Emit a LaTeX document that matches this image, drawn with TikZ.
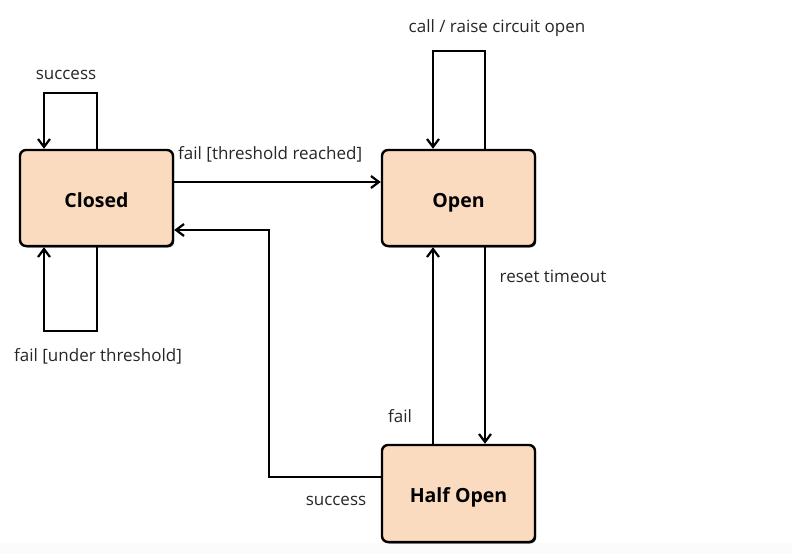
\documentclass[tikz,border=0pt]{standalone}
\usepackage{fontspec}
\setmainfont{Open Sans}
\usetikzlibrary{arrows.meta,shadows}
\definecolor{peach}{HTML}{FADBC0}
\tikzset{
  state/.style={draw=black, line width=2.4pt, rounded corners=6pt, fill=peach,
    minimum width=153pt, minimum height=96pt, inner sep=0pt,
    text height=18pt, text depth=0pt,
    font=\fontsize{19.5}{23}\selectfont\bfseries,
    drop shadow={shadow xshift=1.2pt, shadow yshift=-1.5pt, fill=black, opacity=0.7}},
  conn/.style={line width=2.2pt, -{Straight Barb[length=8pt,width=12pt,line width=2.2pt]}},
  lbl/.style={font=\fontsize{17}{20}\selectfont, inner sep=0pt, text=black!85}
}
\begin{document}
\begin{tikzpicture}[x=1pt,y=-1pt]
\useasboundingbox (0,0) rectangle (792,554);
\fill[black!1.5] (0,543) rectangle (792,554);
\node[state] (closed) at (96.5,198) {Closed};
\node[state] (open) at (458.5,198) {Open};
\node[state, minimum height=97pt] (half) at (458.5,493.5) {Half Open};
% coordinates for loops
\coordinate (c1) at (97,93);
\coordinate (c2) at (44,93);
\coordinate (c3) at (97,331);
\coordinate (c4) at (44,331);
\coordinate (o1) at (485,51);
\coordinate (o2) at (433,51);
\coordinate (h1) at (269,477);
\coordinate (h2) at (269,230);
% closed success loop
\draw[conn] (closed.north -| c1) -- (c1) -- (c2) -- (closed.north -| c2);
% closed fail under threshold loop
\draw[conn] (closed.south -| c3) -- (c3) -- (c4) -- (closed.south -| c4);
% closed -> open
\draw[conn] (closed.east |- 0,182) -- (open.west |- 0,182);
% half -> closed
\draw[conn] (half.west |- h1) -- (h1) -- (h2) -- (closed.east |- h2);
% open loop
\draw[conn] (open.north -| o1) -- (o1) -- (o2) -- (open.north -| o2);
% open -> half
\draw[conn] (open.south -| o1) -- (half.north -| o1);
% half -> open
\draw[conn] (half.north -| o2) -- (open.south -| o2);
% labels
\node[lbl] (l1) at (66,75) {success};
\node[lbl] (l2) at (98,356) {fail [under threshold]};
\node[lbl, anchor=west] (l3) at (178,154) {fail [threshold reached]};
\node[lbl] (l4) at (497,28) {call / raise circuit open};
\node[lbl] (l5) at (553,276) {reset timeout};
\node[lbl] (l6) at (400,416) {fail};
\node[lbl] (l7) at (336,501) {success};
\end{tikzpicture}
\end{document}
